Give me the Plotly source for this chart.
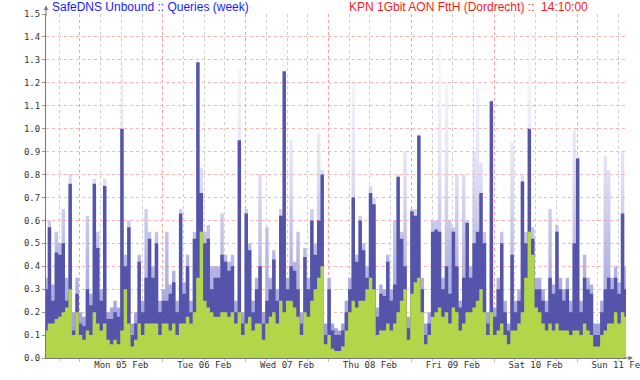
import pandas as pd
import plotly.graph_objects as go

# Hourly samples, Sun 04 Feb 14:10 -> Sun 11 Feb 14:10
start_time = "2024-02-04 14:10"
day_labels_at = ["2024-02-05 12:00", "2024-02-06 12:00", "2024-02-07 12:00",
                 "2024-02-08 12:00", "2024-02-09 12:00", "2024-02-10 12:00",
                 "2024-02-11 12:00"]

queries_avg = [
    0.30, 0.57, 0.25, 0.46, 0.45, 0.50, 0.25, 0.76, 0.12, 0.28, 0.15, 0.14,
    0.30, 0.23, 0.76, 0.48, 0.25, 0.75, 0.17, 0.17, 0.20, 0.18, 1.00, 0.40,
    0.57, 0.10, 0.15, 0.42, 0.20, 0.35, 0.52, 0.35, 0.50, 0.20, 0.25, 0.25,
    0.28, 0.33, 0.20, 0.63, 0.28, 0.40, 0.20, 0.52, 1.29, 0.72, 0.50, 0.52,
    0.30, 0.35, 0.35, 0.45, 0.42, 0.38, 0.40, 0.20, 0.95, 0.15, 0.63, 0.47,
    0.20, 0.30, 0.40, 0.15, 0.25, 0.30, 0.43, 0.25, 0.62, 1.25, 0.30, 0.40,
    0.38, 0.30, 0.15, 0.44, 0.30, 0.60, 0.45, 0.60, 0.80, 0.10, 0.30, 0.12,
    0.10, 0.10, 0.12, 0.20, 0.30, 0.70, 0.42, 0.60, 0.47, 0.35, 0.72, 0.67,
    0.18, 0.28, 0.27, 0.42, 0.25, 0.32, 0.79, 0.52, 0.40, 0.13, 0.64, 0.62,
    0.97, 0.30, 0.10, 0.15, 0.55, 0.56, 0.55, 0.30, 0.40, 0.28, 0.55, 0.40,
    0.22, 0.35, 0.59, 0.35, 0.50, 0.55, 0.72, 0.50, 0.15, 1.12, 0.18, 0.30,
    0.50, 0.20, 0.12, 0.45, 0.20, 0.25, 0.77, 0.50, 1.00, 0.52, 0.30, 0.30,
    0.25, 0.20, 0.35, 0.28, 0.55, 0.30, 0.25, 0.30, 0.20, 0.50, 0.87, 0.20,
    0.35, 0.30, 0.28, 0.10, 0.10, 0.20, 0.30, 0.35, 0.30, 0.35, 0.28, 0.63, 0.30,
]

queries_max = [
    0.35, 0.60, 0.32, 0.55, 0.50, 0.65, 0.35, 0.80, 0.20, 0.35, 0.20, 0.18,
    0.62, 0.28, 0.78, 0.55, 0.30, 0.78, 0.20, 0.22, 0.25, 0.22, 1.30, 0.45,
    0.60, 0.15, 0.20, 0.45, 0.25, 0.65, 0.55, 0.40, 0.55, 0.25, 0.30, 0.55,
    0.32, 0.38, 0.25, 0.65, 0.33, 0.45, 0.25, 0.55, 1.30, 0.83, 0.55, 0.58,
    0.40, 0.40, 0.40, 0.63, 0.45, 0.42, 0.45, 0.25, 1.26, 0.20, 0.65, 0.50,
    0.25, 0.35, 0.80, 0.20, 0.57, 0.35, 0.47, 0.30, 0.65, 1.50, 0.35, 0.95,
    0.42, 0.55, 0.20, 0.48, 0.35, 0.65, 0.50, 0.98, 0.82, 0.15, 0.35, 0.15,
    0.13, 0.12, 0.15, 0.25, 0.35, 1.20, 0.45, 0.62, 0.50, 0.40, 0.75, 0.70,
    0.22, 0.32, 0.30, 0.45, 0.30, 0.60, 0.80, 0.55, 0.90, 0.18, 0.65, 0.65,
    0.98, 0.35, 0.15, 0.20, 0.60, 0.60, 1.35, 0.35, 1.20, 0.60, 0.57, 0.80,
    0.25, 0.80, 0.60, 0.40, 0.90, 1.18, 0.85, 0.55, 0.20, 1.13, 0.22, 0.35,
    0.55, 0.25, 0.15, 0.94, 0.25, 0.30, 0.80, 0.55, 1.42, 0.57, 0.35, 0.35,
    0.30, 0.25, 0.65, 0.32, 0.58, 0.35, 0.30, 0.35, 0.25, 1.00, 0.88, 0.25,
    0.45, 0.35, 0.32, 0.15, 0.15, 0.25, 0.88, 0.82, 0.35, 0.40, 0.33, 0.90, 0.40,
]

queries_base = [
    0.12, 0.15, 0.15, 0.17, 0.18, 0.20, 0.22, 0.30, 0.10, 0.20, 0.10, 0.08,
    0.12, 0.10, 0.20, 0.15, 0.12, 0.15, 0.08, 0.06, 0.08, 0.06, 0.12, 0.30,
    0.15, 0.05, 0.08, 0.15, 0.10, 0.15, 0.15, 0.15, 0.15, 0.10, 0.15, 0.15,
    0.12, 0.15, 0.10, 0.15, 0.15, 0.18, 0.15, 0.20, 0.35, 0.55, 0.25, 0.22,
    0.20, 0.18, 0.18, 0.20, 0.20, 0.18, 0.20, 0.15, 0.20, 0.10, 0.15, 0.18,
    0.12, 0.15, 0.15, 0.08, 0.15, 0.18, 0.20, 0.15, 0.25, 0.20, 0.25, 0.25,
    0.22, 0.18, 0.10, 0.20, 0.18, 0.25, 0.30, 0.35, 0.40, 0.06, 0.10, 0.04,
    0.03, 0.03, 0.05, 0.12, 0.20, 0.25, 0.22, 0.25, 0.25, 0.30, 0.35, 0.30,
    0.10, 0.12, 0.12, 0.15, 0.12, 0.15, 0.20, 0.25, 0.30, 0.08, 0.28, 0.33,
    0.35, 0.20, 0.06, 0.10, 0.18, 0.20, 0.22, 0.18, 0.20, 0.15, 0.22, 0.20,
    0.12, 0.15, 0.20, 0.20, 0.22, 0.25, 0.30, 0.20, 0.10, 0.20, 0.10, 0.12,
    0.15, 0.10, 0.06, 0.12, 0.12, 0.15, 0.20, 0.35, 0.55, 0.45, 0.22, 0.20,
    0.15, 0.12, 0.15, 0.12, 0.15, 0.12, 0.12, 0.12, 0.10, 0.12, 0.12, 0.10,
    0.15, 0.12, 0.10, 0.05, 0.05, 0.10, 0.12, 0.15, 0.15, 0.20, 0.15, 0.20, 0.18,
]

y_ticks = [round(i * 0.1, 1) for i in range(16)]

times = pd.date_range(start_time, periods=len(queries_avg), freq="h")
x_start = times[0]
x_end = times[-1]

fig = go.Figure()
fig.add_trace(go.Scatter(
    x=times, y=queries_max, mode="lines", line=dict(width=0, shape="hvh"),
    fill="tozeroy",
    fillgradient=dict(type="vertical", start=0, stop=1.5,
                      colorscale=[[0, "rgba(150,150,212,1)"],
                                  [0.3, "rgba(168,168,222,0.8)"],
                                  [0.6, "rgba(200,200,235,0.45)"],
                                  [1, "rgba(235,235,248,0.15)"]]),
    hoverinfo="skip", showlegend=False))
fig.add_trace(go.Scatter(
    x=times, y=queries_avg, mode="lines", line=dict(width=0, shape="hvh"),
    fill="tozeroy", fillcolor="#5454ab",
    hoverinfo="skip", showlegend=False))
fig.add_trace(go.Scatter(
    x=times, y=queries_base, mode="lines", line=dict(width=0, shape="hvh"),
    fill="tozeroy", fillcolor="#b2d64a",
    hoverinfo="skip", showlegend=False))
# invisible trace to activate the label axis
fig.add_trace(go.Scatter(x=[x_start, x_end], y=[0, 0], xaxis="x2", mode="lines",
                         line=dict(width=0), hoverinfo="skip", showlegend=False))

tick_font = dict(family="DejaVu Sans Mono", size=9, color="#333333")

fig.update_layout(
    width=640, height=380,
    margin=dict(l=46, r=14, t=14, b=22),
    paper_bgcolor="white", plot_bgcolor="white",
    xaxis=dict(
        range=[x_start, x_end], type="date", automargin=False,
        tick0="2024-02-05 00:00", dtick=86400000,
        showticklabels=False,
        showgrid=True, gridcolor="#ff9f9f", griddash="dot", gridwidth=1,
        ticks="outside", ticklen=3, tickcolor="#ff9f9f",
        showline=True, linecolor="#777777", linewidth=1,
        zeroline=False,
        minor=dict(dtick=6 * 3600000, tick0="2024-02-05 00:00",
                   showgrid=True, gridcolor="#cfcfcf", griddash="dot",
                   ticks="outside", ticklen=2, tickcolor="#bbbbbb"),
        layer="above traces",
    ),
    xaxis2=dict(
        range=[x_start, x_end], type="date", automargin=False,
        overlaying="x", anchor="y", side="bottom",
        tickvals=day_labels_at, tickformat="%a %d %b", tickfont=tick_font,
        ticklabeloverflow="allow",
        ticks="", showgrid=False, showline=False, zeroline=False,
    ),
    yaxis=dict(
        range=[0, 1.5], tickvals=y_ticks, tickformat=".1f", automargin=False,
        tickfont=tick_font,
        showgrid=True, gridcolor="#ffb3b3", griddash="dot", gridwidth=1,
        ticks="outside", ticklen=3, tickcolor="#999999",
        showline=True, linecolor="#777777", linewidth=1,
        zeroline=False,
        layer="above traces",
    ),
    annotations=[
        dict(text="SafeDNS Unbound :: Queries (week)", xref="paper", yref="paper",
             x=0.007, y=1.0, xanchor="left", yanchor="middle", yshift=7,
             showarrow=False, font=dict(family="Liberation Sans", size=12, color="#1a1aff")),
        dict(text="KPN 1Gbit AON FttH (Dordrecht) ::  14:10:00", xref="paper", yref="paper",
             x=0.519, y=1.0, xanchor="left", yanchor="middle", yshift=7,
             showarrow=False, font=dict(family="Liberation Sans", size=12, color="#ff1a1a")),
        dict(text="", xref="paper", yref="paper", x=0, y=1.025, ax=0, ay=12,
             showarrow=True, arrowhead=2, arrowsize=0.9, arrowwidth=1, arrowcolor="#777777"),
        dict(text="", xref="paper", yref="paper", x=1.012, y=0, ax=-10, ay=0,
             showarrow=True, arrowhead=2, arrowsize=0.9, arrowwidth=1, arrowcolor="#777777"),
    ],
)

fig.write_html("out.html",
               config={"displayModeBar": False, "staticPlot": True},
               post_script="document.body.style.margin='0';document.body.style.padding='0';")
